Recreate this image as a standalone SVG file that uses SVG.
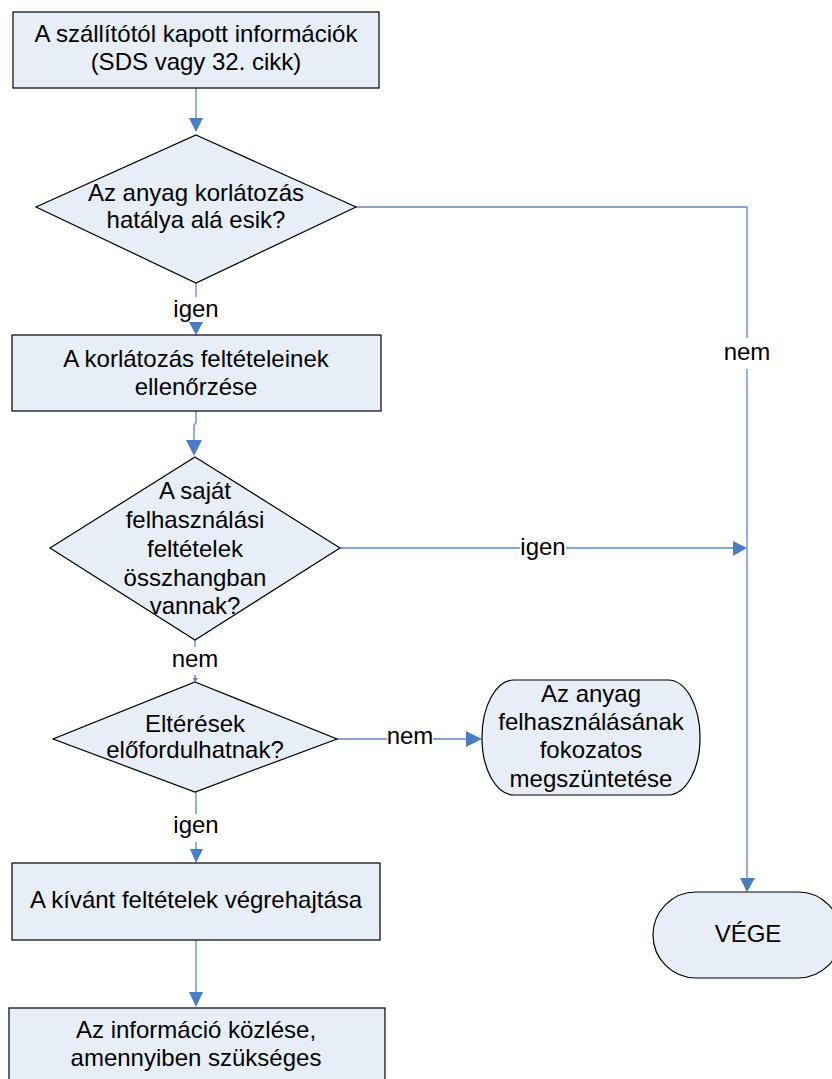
<svg xmlns="http://www.w3.org/2000/svg" width="832" height="1079" viewBox="0 0 832 1079">
<style>
.box{fill:#E8EEF8;stroke:#000;stroke-width:1.2}
.t{font-family:"Liberation Sans",Arial,sans-serif;font-size:24px;fill:#000;text-anchor:middle}
.ln{fill:none;stroke:#5B88C8;stroke-width:1.3}
.ah{fill:#4A7EC4}
.bg{fill:#fff}
</style>
<rect width="832" height="1079" fill="#fff"/>
<g id="connectors">
<path class="ln" d="M196,88 V120"/>
<polygon class="ah" points="189,118 203,118 196,132"/>
<path class="ln" d="M196,283 V322"/>
<polygon class="ah" points="189,322 203,322 196,335"/>
<path class="ln" d="M196,411 V423 L194,425 V442"/>
<polygon class="ah" points="186,440 202,440 194,456"/>
<path class="ln" d="M340,548 H734"/>
<polygon class="ah" points="733,541 733,556 747,548"/>
<path class="ln" d="M356,207 H747 V878"/>
<polygon class="ah" points="740,878 755,878 747,892"/>
<path class="ln" d="M195,640 V680"/>
<polygon class="ah" points="193,678 198,678 195,682"/>
<path class="ln" d="M337,739 H467"/>
<polygon class="ah" points="466,731 466,747 482,739"/>
<path class="ln" d="M196,792 V850"/>
<polygon class="ah" points="190,849 203,849 196,863"/>
<path class="ln" d="M196,940 V993"/>
<polygon class="ah" points="189,992 203,992 196,1007"/>
<rect class="bg" x="170" y="297" width="52" height="25"/>
<text class="t" x="196" y="317">igen</text>
<rect class="bg" x="721" y="338" width="52" height="31"/>
<text class="t" x="747" y="360">nem</text>
<rect class="bg" x="520" y="538" width="46" height="22"/>
<text class="t" x="543" y="555">igen</text>
<rect class="bg" x="171" y="647" width="48" height="28"/>
<text class="t" x="195" y="667">nem</text>
<rect class="bg" x="387" y="729" width="46" height="22"/>
<text class="t" x="410" y="744">nem</text>
<rect class="bg" x="170" y="814" width="52" height="28"/>
<text class="t" x="196" y="833">igen</text>
</g>
<g id="n1">
<rect class="box" x="13" y="12" width="366" height="76"/>
<text class="t" x="196" y="42">A szállítótól kapott információk</text>
<text class="t" x="196" y="70">(SDS vagy 32. cikk)</text>
</g>
<g id="n2">
<polygon class="box" points="196,135 356,207 196,283 36,207"/>
<text class="t" x="196" y="201">Az anyag korlátozás</text>
<text class="t" x="196" y="228">hatálya alá esik?</text>
</g>
<g id="n3">
<rect class="box" x="12" y="335" width="369" height="76"/>
<text class="t" x="196" y="367">A korlátozás feltételeinek</text>
<text class="t" x="196" y="395">ellenőrzése</text>
</g>
<g id="n4">
<polygon class="box" points="195,457 340,548 195,640 50,548"/>
<text class="t" x="195" y="499">A saját</text>
<text class="t" x="195" y="528">felhasználási</text>
<text class="t" x="195" y="557">feltételek</text>
<text class="t" x="195" y="586">összhangban</text>
<text class="t" x="195" y="614">vannak?</text>
</g>
<g id="n5">
<polygon class="box" points="195,682 337,739 195,792 53,739"/>
<text class="t" x="195" y="732">Eltérések</text>
<text class="t" x="195" y="758">előfordulhatnak?</text>
</g>
<g id="n6">
<rect class="box" x="482" y="680" width="218" height="115" rx="32" ry="57"/>
<text class="t" x="591" y="702">Az anyag</text>
<text class="t" x="591" y="730">felhasználásának</text>
<text class="t" x="591" y="758">fokozatos</text>
<text class="t" x="591" y="787">megszüntetése</text>
</g>
<g id="n7">
<rect class="box" x="12" y="863" width="368" height="77"/>
<text class="t" x="196" y="908">A kívánt feltételek végrehajtása</text>
</g>
<g id="n8">
<rect class="box" x="653" y="892" width="188" height="86" rx="43" ry="43"/>
<text class="t" x="748" y="942">VÉGE</text>
</g>
<g id="n9">
<rect class="box" x="9" y="1008" width="376" height="90"/>
<text class="t" x="196" y="1038">Az információ közlése,</text>
<text class="t" x="196" y="1066">amennyiben szükséges</text>
</g>
</svg>
